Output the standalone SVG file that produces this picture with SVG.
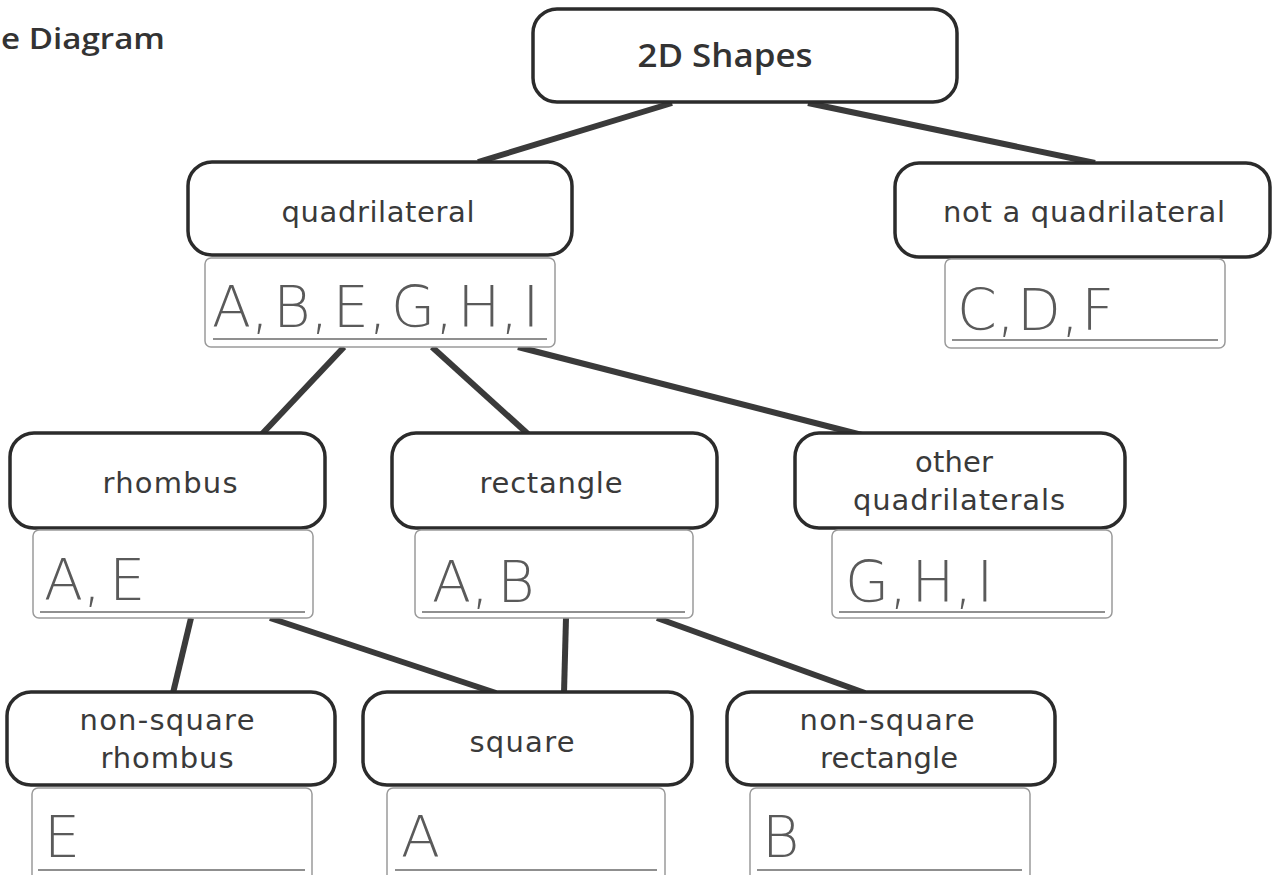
<svg xmlns="http://www.w3.org/2000/svg" width="1278" height="875" viewBox="0 0 1278 875">
<style>
.node{fill:#fff;stroke:#2b2b2b;stroke-width:3.5}
.lbl{font-family:"DejaVu Sans","Liberation Sans",sans-serif;font-size:29px;fill:#3a3a3a;text-anchor:middle}
.bold{font-family:"Open Sans","DejaVu Sans",sans-serif;font-weight:600;font-size:32px;fill:#333}
.ans{fill:#fff;stroke:#9a9a9a;stroke-width:1.5}
.ul{stroke:#6a6a6a;stroke-width:1.5}
.let{font-family:"DejaVu Sans","Liberation Sans",sans-serif;font-weight:200;font-size:57px;fill:#5a5a5a;word-spacing:-14px}
.conn line{stroke:#3a3a3a;stroke-width:6;stroke-linecap:butt}
</style>
<rect width="1278" height="875" fill="#fff"/>
<text x="1" y="49" font-family="Open Sans,DejaVu Sans,sans-serif" font-weight="600" font-size="29" fill="#333" textLength="164" lengthAdjust="spacingAndGlyphs">e Diagram</text>
<g id="connectors" class="conn">
<line x1="672" y1="103" x2="478" y2="162"/>
<line x1="808" y1="103" x2="1095" y2="163"/>
<line x1="344" y1="347" x2="262" y2="434"/>
<line x1="432" y1="347" x2="528" y2="434"/>
<line x1="518" y1="347" x2="862" y2="435"/>
<line x1="191" y1="618" x2="173" y2="693"/>
<line x1="270" y1="618" x2="496" y2="693"/>
<line x1="566" y1="618" x2="564" y2="693"/>
<line x1="657" y1="618" x2="865" y2="693"/>
</g>
<g id="n-2d">
<rect class="node" x="533" y="9" width="424" height="93" rx="24"/>
<text class="lbl bold" x="725" y="67" textLength="175" lengthAdjust="spacingAndGlyphs">2D Shapes</text>
</g>
<g id="n-quad">
<rect class="node" x="188" y="162" width="384" height="93" rx="24"/>
<text class="lbl" x="378" y="222" textLength="193">quadrilateral</text>
<rect class="ans" x="205" y="258" width="350" height="89" rx="6"/>
<line class="ul" x1="213" y1="339" x2="547" y2="339"/>
<text class="let" x="212" y="327">A, B, E, G, H, I</text>
</g>
<g id="n-notquad">
<rect class="node" x="895" y="163" width="375" height="94" rx="24"/>
<text class="lbl" x="1084" y="222" textLength="282">not a quadrilateral</text>
<rect class="ans" x="945" y="259" width="280" height="89" rx="6"/>
<line class="ul" x1="952" y1="340" x2="1218" y2="340"/>
<text class="let" x="957" y="330" style="word-spacing:-16px">C, D, F</text>
</g>
<g id="n-rhombus">
<rect class="node" x="10" y="433" width="315" height="95" rx="24"/>
<text class="lbl" x="170" y="493" textLength="135">rhombus</text>
<rect class="ans" x="33" y="530" width="280" height="88" rx="6"/>
<line class="ul" x1="40" y1="612" x2="305" y2="612"/>
<text class="let" x="44" y="600" style="word-spacing:-10px">A, E</text>
</g>
<g id="n-rect">
<rect class="node" x="392" y="433" width="325" height="95" rx="24"/>
<text class="lbl" x="551" y="493" textLength="143">rectangle</text>
<rect class="ans" x="415" y="530" width="278" height="88" rx="6"/>
<line class="ul" x1="422" y1="612" x2="685" y2="612"/>
<text class="let" x="432" y="602" style="word-spacing:-10px">A, B</text>
</g>
<g id="n-other">
<rect class="node" x="795" y="433" width="330" height="95" rx="24"/>
<text class="lbl" x="954" y="472" textLength="78">other</text>
<text class="lbl" x="959" y="510" textLength="212">quadrilaterals</text>
<rect class="ans" x="832" y="530" width="280" height="88" rx="6"/>
<line class="ul" x1="839" y1="612" x2="1105" y2="612"/>
<text class="let" x="845" y="602">G, H, I</text>
</g>
<g id="n-nsrhombus">
<rect class="node" x="7" y="692" width="328" height="93" rx="24"/>
<text class="lbl" x="167" y="730" textLength="175">non-square</text>
<text class="lbl" x="167" y="768" textLength="133">rhombus</text>
<rect class="ans" x="32" y="788" width="280" height="95" rx="6"/>
<line class="ul" x1="38" y1="870" x2="305" y2="870"/>
<text class="let" x="44" y="857">E</text>
</g>
<g id="n-square">
<rect class="node" x="363" y="692" width="329" height="93" rx="24"/>
<text class="lbl" x="522" y="752" textLength="105">square</text>
<rect class="ans" x="387" y="788" width="278" height="95" rx="6"/>
<line class="ul" x1="395" y1="870" x2="657" y2="870"/>
<text class="let" x="401" y="857">A</text>
</g>
<g id="n-nsrect">
<rect class="node" x="727" y="692" width="328" height="93" rx="24"/>
<text class="lbl" x="887" y="730" textLength="175">non-square</text>
<text class="lbl" x="889" y="768" textLength="138">rectangle</text>
<rect class="ans" x="750" y="788" width="280" height="95" rx="6"/>
<line class="ul" x1="757" y1="870" x2="1022" y2="870"/>
<text class="let" x="762" y="857">B</text>
</g>
</svg>
